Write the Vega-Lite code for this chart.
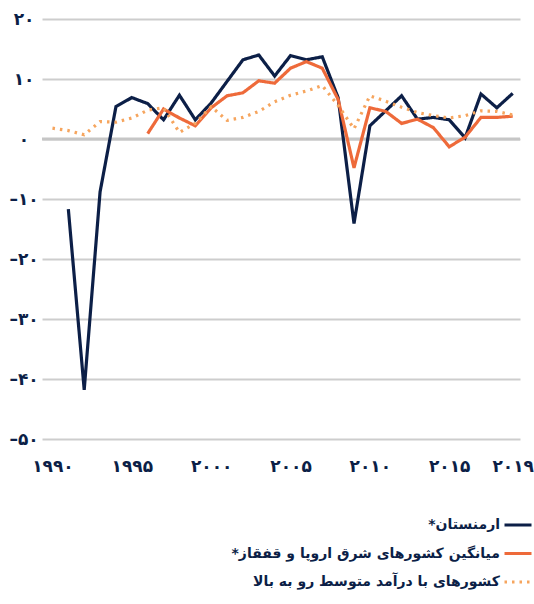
{
  "$schema": "https://vega.github.io/schema/vega-lite/v6.json",
  "width": 478,
  "height": 420,
  "autosize": "none",
  "padding": {"left": 42, "top": 19, "right": 14, "bottom": 165},
  "background": "white",
  "config": {
    "view": {"stroke": null},
    "font": "DejaVu Sans",
    "legend": {
      "labelAlign": "right",
      "labelOffset": -33,
      "symbolType": "stroke",
      "symbolSize": 729,
      "symbolStrokeWidth": 3,
      "labelFontSize": 14,
      "labelFontWeight": "bold",
      "labelColor": "#0c1f47",
      "labelLimit": 500,
      "rowPadding": 6.5,
      "padding": 0
    }
  },
  "data": {
    "values": [
      {"year": 1991, "series": "*ارمنستان", "value": -11.7},
      {"year": 1992, "series": "*ارمنستان", "value": -41.8},
      {"year": 1993, "series": "*ارمنستان", "value": -8.8},
      {"year": 1994, "series": "*ارمنستان", "value": 5.4},
      {"year": 1995, "series": "*ارمنستان", "value": 6.9},
      {"year": 1996, "series": "*ارمنستان", "value": 5.9},
      {"year": 1997, "series": "*ارمنستان", "value": 3.2},
      {"year": 1998, "series": "*ارمنستان", "value": 7.3},
      {"year": 1999, "series": "*ارمنستان", "value": 3.2},
      {"year": 2000, "series": "*ارمنستان", "value": 6.0},
      {"year": 2001, "series": "*ارمنستان", "value": 9.6},
      {"year": 2002, "series": "*ارمنستان", "value": 13.2},
      {"year": 2003, "series": "*ارمنستان", "value": 14.0},
      {"year": 2004, "series": "*ارمنستان", "value": 10.5},
      {"year": 2005, "series": "*ارمنستان", "value": 13.9},
      {"year": 2006, "series": "*ارمنستان", "value": 13.2},
      {"year": 2007, "series": "*ارمنستان", "value": 13.7},
      {"year": 2008, "series": "*ارمنستان", "value": 6.9},
      {"year": 2009, "series": "*ارمنستان", "value": -14.1},
      {"year": 2010, "series": "*ارمنستان", "value": 2.2},
      {"year": 2011, "series": "*ارمنستان", "value": 4.7},
      {"year": 2012, "series": "*ارمنستان", "value": 7.2},
      {"year": 2013, "series": "*ارمنستان", "value": 3.3},
      {"year": 2014, "series": "*ارمنستان", "value": 3.6},
      {"year": 2015, "series": "*ارمنستان", "value": 3.2},
      {"year": 2016, "series": "*ارمنستان", "value": 0.2},
      {"year": 2017, "series": "*ارمنستان", "value": 7.5},
      {"year": 2018, "series": "*ارمنستان", "value": 5.2},
      {"year": 2019, "series": "*ارمنستان", "value": 7.6},

      {"year": 1996, "series": "*میانگین کشورهای شرق اروپا و قفقاز", "value": 0.9},
      {"year": 1997, "series": "*میانگین کشورهای شرق اروپا و قفقاز", "value": 5.0},
      {"year": 1998, "series": "*میانگین کشورهای شرق اروپا و قفقاز", "value": 3.5},
      {"year": 1999, "series": "*میانگین کشورهای شرق اروپا و قفقاز", "value": 2.2},
      {"year": 2000, "series": "*میانگین کشورهای شرق اروپا و قفقاز", "value": 5.2},
      {"year": 2001, "series": "*میانگین کشورهای شرق اروپا و قفقاز", "value": 7.2},
      {"year": 2002, "series": "*میانگین کشورهای شرق اروپا و قفقاز", "value": 7.7},
      {"year": 2003, "series": "*میانگین کشورهای شرق اروپا و قفقاز", "value": 9.7},
      {"year": 2004, "series": "*میانگین کشورهای شرق اروپا و قفقاز", "value": 9.3},
      {"year": 2005, "series": "*میانگین کشورهای شرق اروپا و قفقاز", "value": 11.8},
      {"year": 2006, "series": "*میانگین کشورهای شرق اروپا و قفقاز", "value": 12.9},
      {"year": 2007, "series": "*میانگین کشورهای شرق اروپا و قفقاز", "value": 11.8},
      {"year": 2008, "series": "*میانگین کشورهای شرق اروپا و قفقاز", "value": 6.6},
      {"year": 2009, "series": "*میانگین کشورهای شرق اروپا و قفقاز", "value": -4.8},
      {"year": 2010, "series": "*میانگین کشورهای شرق اروپا و قفقاز", "value": 5.2},
      {"year": 2011, "series": "*میانگین کشورهای شرق اروپا و قفقاز", "value": 4.6},
      {"year": 2012, "series": "*میانگین کشورهای شرق اروپا و قفقاز", "value": 2.6},
      {"year": 2013, "series": "*میانگین کشورهای شرق اروپا و قفقاز", "value": 3.3},
      {"year": 2014, "series": "*میانگین کشورهای شرق اروپا و قفقاز", "value": 1.9},
      {"year": 2015, "series": "*میانگین کشورهای شرق اروپا و قفقاز", "value": -1.3},
      {"year": 2016, "series": "*میانگین کشورهای شرق اروپا و قفقاز", "value": 0.3},
      {"year": 2017, "series": "*میانگین کشورهای شرق اروپا و قفقاز", "value": 3.6},
      {"year": 2018, "series": "*میانگین کشورهای شرق اروپا و قفقاز", "value": 3.6},
      {"year": 2019, "series": "*میانگین کشورهای شرق اروپا و قفقاز", "value": 3.8},

      {"year": 1990, "series": "کشورهای با درآمد متوسط رو به بالا", "value": 1.8},
      {"year": 1991, "series": "کشورهای با درآمد متوسط رو به بالا", "value": 1.4},
      {"year": 1992, "series": "کشورهای با درآمد متوسط رو به بالا", "value": 0.7},
      {"year": 1993, "series": "کشورهای با درآمد متوسط رو به بالا", "value": 2.9},
      {"year": 1994, "series": "کشورهای با درآمد متوسط رو به بالا", "value": 2.8},
      {"year": 1995, "series": "کشورهای با درآمد متوسط رو به بالا", "value": 3.5},
      {"year": 1996, "series": "کشورهای با درآمد متوسط رو به بالا", "value": 4.8},
      {"year": 1997, "series": "کشورهای با درآمد متوسط رو به بالا", "value": 5.2},
      {"year": 1998, "series": "کشورهای با درآمد متوسط رو به بالا", "value": 1.1},
      {"year": 1999, "series": "کشورهای با درآمد متوسط رو به بالا", "value": 2.6},
      {"year": 2000, "series": "کشورهای با درآمد متوسط رو به بالا", "value": 5.4},
      {"year": 2001, "series": "کشورهای با درآمد متوسط رو به بالا", "value": 3.1},
      {"year": 2002, "series": "کشورهای با درآمد متوسط رو به بالا", "value": 3.6},
      {"year": 2003, "series": "کشورهای با درآمد متوسط رو به بالا", "value": 4.6},
      {"year": 2004, "series": "کشورهای با درآمد متوسط رو به بالا", "value": 6.2},
      {"year": 2005, "series": "کشورهای با درآمد متوسط رو به بالا", "value": 7.3},
      {"year": 2006, "series": "کشورهای با درآمد متوسط رو به بالا", "value": 8.0},
      {"year": 2007, "series": "کشورهای با درآمد متوسط رو به بالا", "value": 8.9},
      {"year": 2008, "series": "کشورهای با درآمد متوسط رو به بالا", "value": 5.6},
      {"year": 2009, "series": "کشورهای با درآمد متوسط رو به بالا", "value": 1.7},
      {"year": 2010, "series": "کشورهای با درآمد متوسط رو به بالا", "value": 7.2},
      {"year": 2011, "series": "کشورهای با درآمد متوسط رو به بالا", "value": 6.3},
      {"year": 2012, "series": "کشورهای با درآمد متوسط رو به بالا", "value": 5.3},
      {"year": 2013, "series": "کشورهای با درآمد متوسط رو به بالا", "value": 4.4},
      {"year": 2014, "series": "کشورهای با درآمد متوسط رو به بالا", "value": 3.9},
      {"year": 2015, "series": "کشورهای با درآمد متوسط رو به بالا", "value": 3.5},
      {"year": 2016, "series": "کشورهای با درآمد متوسط رو به بالا", "value": 3.9},
      {"year": 2017, "series": "کشورهای با درآمد متوسط رو به بالا", "value": 4.7},
      {"year": 2018, "series": "کشورهای با درآمد متوسط رو به بالا", "value": 4.6},
      {"year": 2019, "series": "کشورهای با درآمد متوسط رو به بالا", "value": 4.0}
    ]
  },
  "layer": [
    {
      "data": {"values": [{}]},
      "mark": {"type": "rule", "color": "#c6c6c6", "strokeWidth": 3},
      "encoding": {"y": {"datum": 0, "type": "quantitative"}}
    },
    {
      "mark": {"type": "line", "strokeWidth": 3.2},
      "encoding": {
        "x": {
          "field": "year",
          "type": "quantitative",
          "scale": {"domain": [1989.34, 2019.46], "nice": false, "zero": false},
          "axis": {
            "title": null,
            "values": [1990, 1995, 2000, 2005, 2010, 2015, 2019],
            "grid": false,
            "domain": false,
            "ticks": false,
            "tickSize": 0,
            "labelPadding": 27,
            "labelBaseline": "middle",
            "labelFontSize": 17,
            "labelFontWeight": "bold",
            "labelColor": "#0c1f47",
            "labelFlush": false,
            "labelOverlap": false,
            "labelExpr": "replace(replace(replace(replace(replace(replace(replace(replace(replace(replace(datum.value + '', /0/g, '۰'), /1/g, '۱'), /2/g, '۲'), /3/g, '۳'), /4/g, '۴'), /5/g, '۵'), /6/g, '۶'), /7/g, '۷'), /8/g, '۸'), /9/g, '۹')"
          }
        },
        "y": {
          "field": "value",
          "type": "quantitative",
          "scale": {"domain": [-50, 20], "nice": false},
          "axis": {
            "title": null,
            "values": [-50, -40, -30, -20, -10, 0, 10, 20],
            "grid": true,
            "gridColor": "#cdcdcd",
            "gridWidth": 2,
            "domain": false,
            "ticks": false,
            "tickSize": 0,
            "labelAlign": "center",
            "labelPadding": 18.5,
            "labelFontSize": 17,
            "labelFontWeight": "bold",
            "labelColor": "#0c1f47",
            "labelExpr": "replace(replace(replace(replace(replace(replace(replace(replace(replace(replace(replace(datum.value + '', /-/g, '–'), /0/g, '۰'), /1/g, '۱'), /2/g, '۲'), /3/g, '۳'), /4/g, '۴'), /5/g, '۵'), /6/g, '۶'), /7/g, '۷'), /8/g, '۸'), /9/g, '۹')"
          }
        },
        "color": {
          "field": "series",
          "type": "nominal",
          "scale": {
            "domain": ["*ارمنستان", "*میانگین کشورهای شرق اروپا و قفقاز", "کشورهای با درآمد متوسط رو به بالا"],
            "range": ["#0c1f47", "#ee6a3a", "#f6a55e"]
          },
          "legend": {"title": null, "orient": "none", "legendX": 461, "legendY": 491}
        },
        "strokeDash": {
          "field": "series",
          "type": "nominal",
          "scale": {
            "domain": ["*ارمنستان", "*میانگین کشورهای شرق اروپا و قفقاز", "کشورهای با درآمد متوسط رو به بالا"],
            "range": [[1, 0], [1, 0], [2.5, 5]]
          },
          "legend": {"title": null, "orient": "none", "legendX": 461, "legendY": 491}
        }
      }
    }
  ]
}
